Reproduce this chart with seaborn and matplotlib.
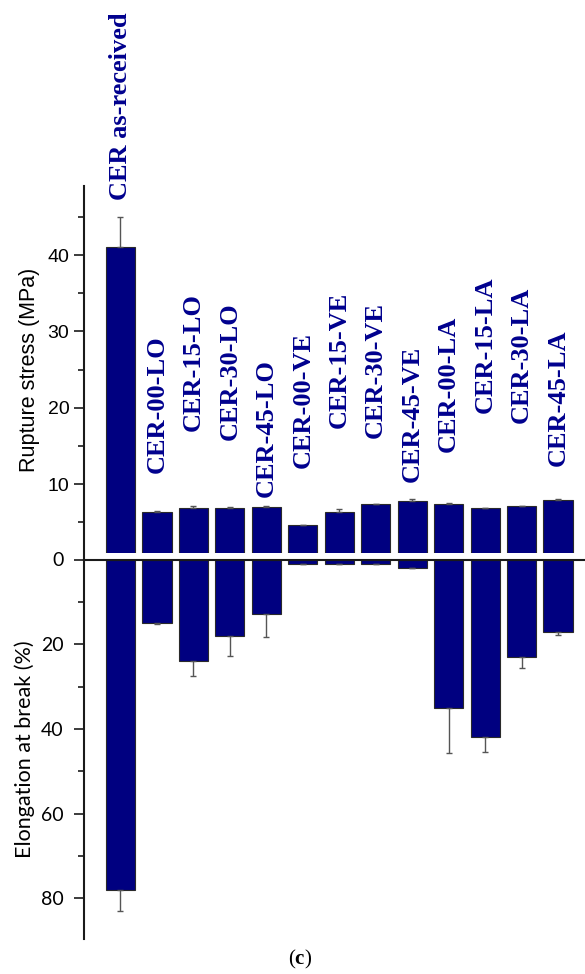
import matplotlib
matplotlib.use("Agg")
import matplotlib.pyplot as plt
import seaborn as sns
import numpy as np
import pandas as pd
from matplotlib.ticker import FixedLocator, MultipleLocator

# Sample names
samples = ["CER as-received",
           "CER-00-LO", "CER-15-LO", "CER-30-LO", "CER-45-LO",
           "CER-00-VE", "CER-15-VE", "CER-30-VE", "CER-45-VE",
           "CER-00-LA", "CER-15-LA", "CER-30-LA", "CER-45-LA"]

# Rupture stress (MPa) and its standard deviation
stress = [41.0, 6.37, 6.8, 6.9, 7.0, 4.6, 6.37, 7.34, 7.73, 7.38, 6.8, 7.1, 7.94]
stress_err = [4.0, 0.1, 0.26, 0.15, 0.08, 0.0, 0.35, 0.1, 0.35, 0.1, 0.1, 0.08, 0.1]

# Elongation at break (%) and its standard deviation
elong = [78.0, 14.9, 24.0, 18.1, 12.9, 1.1, 1.1, 1.1, 1.9, 35.1, 41.9, 23.1, 17.1]
elong_err = [5.0, 0.3, 3.5, 4.6, 5.4, 0.0, 0.0, 0.0, 0.0, 10.7, 3.6, 2.5, 0.7]

# Axis ticks
stress_ticks = [10, 20, 30, 40]
elong_ticks = [0, 20, 40, 60, 80]

# Height (MPa) where each sample name starts
label_base = [47.2, 11.4, 16.9, 15.8, 8.3, 12.1, 17.3, 16.0, 10.3, 14.2, 19.3, 18.0, 12.3]

bar_color = "#000080"
label_color = "#00008E"
line_color = "#1a1a1a"

sns.set_style("ticks")
plt.rcParams["font.family"] = ["Liberation Sans", "DejaVu Sans"]
plt.rcParams["text.color"] = "black"
plt.rcParams["axes.labelcolor"] = "black"
plt.rcParams["ytick.color"] = "black"
plt.rcParams["ytick.labelcolor"] = "black"
plt.rcParams["mathtext.fontset"] = "custom"
plt.rcParams["mathtext.rm"] = "Liberation Serif"
plt.rcParams["mathtext.bf"] = "Liberation Serif:bold"

W, H = 585, 974
fig = plt.figure(figsize=(W / 100, H / 100), dpi=100)


def box(left, top, right, bottom):
    return [left / W, 1 - bottom / H, (right - left) / W, (bottom - top) / H]


ax1 = fig.add_axes(box(84, 186, 585, 553))
ax2 = fig.add_axes(box(84, 559.5, 585, 939))

df = pd.DataFrame({"sample": samples, "stress": stress, "elong": elong})
n = len(samples)
x = np.arange(n)

sns.barplot(data=df, x="sample", y="stress", color=bar_color, saturation=1,
            width=0.8, edgecolor="#2a2a2a", linewidth=0.8, errorbar=None, ax=ax1)
sns.barplot(data=df, x="sample", y="elong", color=bar_color, saturation=1,
            width=0.8, edgecolor="#2a2a2a", linewidth=0.8, errorbar=None, ax=ax2)

ax1.errorbar(x, stress, yerr=[np.zeros(n), stress_err], fmt="none",
             ecolor="#555555", elinewidth=1, capsize=2.5, capthick=1, zorder=3)
ax2.errorbar(x, elong, yerr=[np.zeros(n), elong_err], fmt="none",
             ecolor="#555555", elinewidth=1, capsize=2.5, capthick=1, zorder=3)

ax1.set_xlim(-1.0, 12.74)
ax2.set_xlim(-1.0, 12.74)
ax1.set_ylim(0.96, 49.06)
ax2.set_ylim(89.6, 0)

for ax in (ax1, ax2):
    ax.set_xticks([])
    ax.set_xlabel("")
    ax.spines["right"].set_visible(False)
    ax.spines["bottom"].set_visible(False)
    ax.spines["left"].set_linewidth(1.5)
    ax.spines["left"].set_color(line_color)
ax1.spines["top"].set_visible(False)
ax1.spines["left"].set_bounds(0, 49.06)
ax2.spines["top"].set_linewidth(1.5)
ax2.spines["top"].set_color(line_color)

# Rupture stress axis
ax1.yaxis.set_major_locator(FixedLocator(stress_ticks))
ax1.set_yticks(stress_ticks, labels=[str(t) for t in stress_ticks])
ax1.yaxis.set_minor_locator(MultipleLocator(5))
ax1.tick_params(axis="y", which="major", direction="out", length=7, width=1.2,
                color=line_color, labelcolor="black", labelsize=14, pad=3.5)
ax1.tick_params(axis="y", which="minor", direction="out", length=4, width=1.2,
                color=line_color)
ax1.set_ylabel("Rupture stress (MPa)", fontsize=15.5, color="black")
ax1.yaxis.set_label_coords(-0.088, 0.5)

# Elongation axis
ax2.set_yticks(elong_ticks, labels=[str(t) for t in elong_ticks],
               fontfamily="Lato")
ax2.yaxis.set_minor_locator(MultipleLocator(10))
ax2.tick_params(axis="y", which="major", direction="out", length=7.5, width=1.2,
                color=line_color, labelcolor="black", labelsize=14, pad=7)
ax2.tick_params(axis="y", which="minor", direction="out", length=4.5, width=1.2,
                color=line_color)
ax2.set_ylabel("Elongation at break (%)", fontsize=15.5, fontfamily="Lato",
               color="black")
ax2.yaxis.set_label_coords(-0.098, 0.5)

# Sample names above the stress bars
for i, (name, yb) in enumerate(zip(samples, label_base)):
    ax1.text(i, yb, name, rotation=90, ha="center", va="bottom",
             fontsize=19, fontweight="bold", fontfamily="Liberation Serif",
             color=label_color, clip_on=False)

fig.text(300 / W, 1 - 959 / H, r"$\mathrm{(}\mathbf{c}\mathrm{)}$",
         ha="center", va="center", fontsize=15, color="black")

fig.savefig("out.png", dpi=100)
